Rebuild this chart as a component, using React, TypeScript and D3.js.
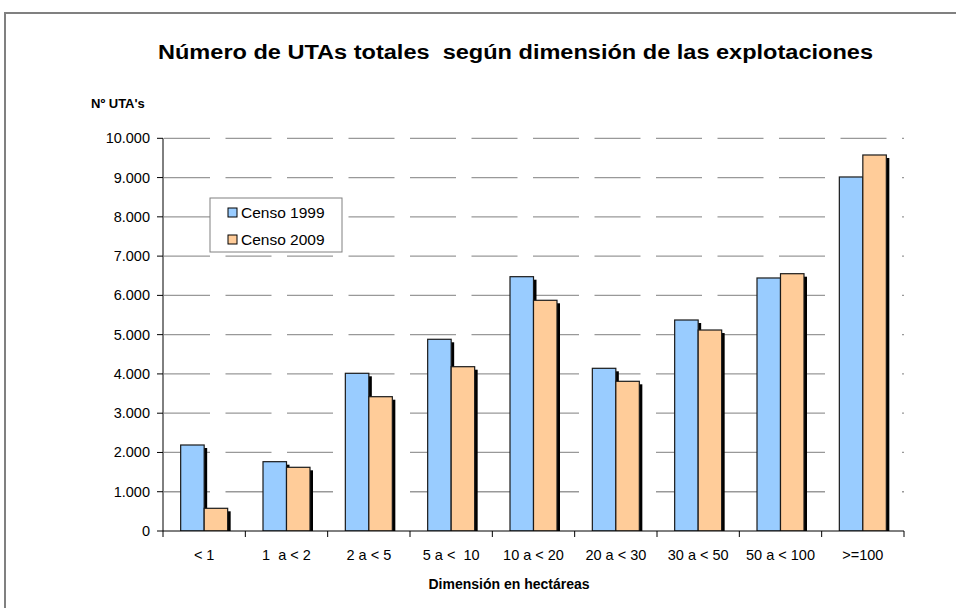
import React from "react";
import * as d3 from "d3";

const categories = ["< 1", "1  a < 2", "2 a < 5", "5 a <  10", "10 a < 20", "20 a < 30", "30 a < 50", "50 a < 100", ">=100"];
const seriesNames = ["Censo 1999", "Censo 2009"];
const censo1999 = [2190, 1765, 4016, 4882, 6476, 4143, 5373, 6443, 9015];
const censo2009 = [578, 1622, 3420, 4184, 5875, 3812, 5118, 6552, 9575];
const yTicks = [0, 1000, 2000, 3000, 4000, 5000, 6000, 7000, 8000, 9000, 10000];
const colors = ["#99CCFF", "#FFCC99"];

const W = 956, H = 608;
const left = 163, right = 904, top = 138.3, bottom = 531;
const FONT = "'Liberation Sans', Arial, sans-serif";

export default function App() {
  const x0 = d3.scaleBand<string>().domain(categories).range([left, right]).padding(0);
  const x1 = d3.scaleBand<string>().domain(seriesNames).range([0, x0.bandwidth()]).paddingInner(0).paddingOuter(0.752);
  const y = d3.scaleLinear().domain([0, 10000]).range([bottom, top]);
  const locale = d3.formatLocale({ decimal: ",", thousands: ".", grouping: [3], currency: ["", "€"] });
  const fmt = locale.format(",d");
  const values = [censo1999, censo2009];
  const boundaries = categories.map((c) => x0(c)!).concat([right]);

  return (
    <svg width={W} height={H} style={{ position: "absolute", left: 0, top: 0, background: "#fff" }} fontFamily={FONT}>
      <defs>
        <clipPath id="plotclip">
          <rect x={left} y={0} width={right - left + 10} height={bottom} />
        </clipPath>
      </defs>
      <rect x={0} y={0} width={W} height={H} fill="#fff" />
      <rect x={5} y={13} width={1200} height={1200} fill="none" stroke="#808080" strokeWidth={2} />

      <text x={158} y={59} fontSize={20} fontWeight="bold" textLength={715} lengthAdjust="spacingAndGlyphs" style={{ whiteSpace: "pre" }}>
        Número de UTAs totales  según dimensión de las explotaciones
      </text>
      <text x={91} y={108} fontSize={13} fontWeight="bold">Nº UTA's</text>

      {yTicks.filter((t) => t > 0).map((t) => (
        <line key={"g" + t} x1={left + 1} x2={right} y1={y(t)} y2={y(t)} stroke="#999" strokeWidth={1.3} strokeDasharray="46,15.5" />
      ))}

      <g clipPath="url(#plotclip)">
        {categories.map((c, i) => (
          <g key={c}>
            {seriesNames.map((s, k) => {
              const bx = x0(c)! + x1(s)!;
              const by = y(values[k][i]);
              const bw = x1.bandwidth();
              return (
                <g key={s}>
                  <rect x={bx + 3} y={by + 3} width={bw} height={bottom - by} fill="#000" />
                  <rect x={bx} y={by} width={bw} height={bottom - by} fill={colors[k]} stroke="#1a1a1a" strokeWidth={1.2} />
                </g>
              );
            })}
          </g>
        ))}
      </g>

      <line x1={left} x2={left} y1={top} y2={bottom} stroke="#000" strokeWidth={1} />
      <line x1={left} x2={right} y1={bottom} y2={bottom} stroke="#000" strokeWidth={1} />
      {yTicks.map((t) => (
        <g key={"t" + t}>
          <line x1={left - 6} x2={left} y1={y(t)} y2={y(t)} stroke="#000" />
          <text x={150} y={y(t) + 5} fontSize={14.5} textAnchor="end">{fmt(t)}</text>
        </g>
      ))}
      {boundaries.map((b, i) => (
        <line key={"xb" + i} x1={b} x2={b} y1={bottom} y2={bottom + 6} stroke="#000" />
      ))}
      {categories.map((c) => (
        <text key={"l" + c} x={x0(c)! + x0.bandwidth() / 2} y={560} fontSize={14.5} textAnchor="middle" style={{ whiteSpace: "pre" }}>{c}</text>
      ))}
      <text x={509} y={589} fontSize={14} fontWeight="bold" textAnchor="middle">Dimensión en hectáreas</text>

      <g>
        <rect x={210} y={198} width={132} height={54} fill="#fff" stroke="#808080" strokeWidth={1} />
        {seriesNames.map((s, k) => (
          <g key={"lg" + s}>
            <rect x={228} y={208 + k * 27} width={9} height={9} fill={colors[k]} stroke="#000" strokeWidth={1} />
            <text x={241} y={217.5 + k * 27} fontSize={15.5}>{s}</text>
          </g>
        ))}
      </g>
    </svg>
  );
}
